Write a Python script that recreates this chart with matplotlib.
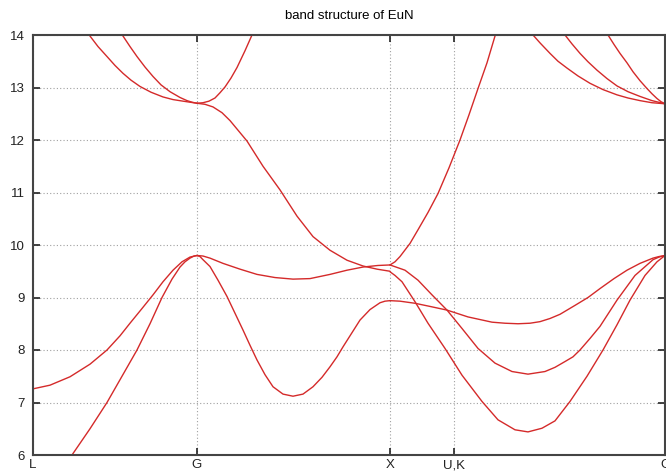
import matplotlib.pyplot as plt

# k-path positions of the symmetry points
kticks = [0, 0.82, 1.785, 2.105, 3.16]
klabels = ['L', 'G', 'X', 'U,K', 'G']

# L -> G valence
k_a = [0, 0.085, 0.195, 0.285, 0.37, 0.445, 0.52, 0.585, 0.645, 0.695, 0.735, 0.76, 0.785, 0.805, 0.82]
e_a = [5.4, 5.5, 6.0, 6.5, 7.0, 7.5, 8.0, 8.5, 9.0, 9.35, 9.58, 9.68, 9.75, 9.79, 9.8]

k_b = [0, 0.085, 0.185, 0.285, 0.37, 0.435, 0.485, 0.545, 0.6, 0.65, 0.7, 0.745, 0.785, 0.82]
e_b = [7.26, 7.33, 7.49, 7.73, 8.0, 8.27, 8.51, 8.79, 9.05, 9.3, 9.52, 9.68, 9.77, 9.8]

# G -> X valence
k_c = [0.82, 0.835, 0.85, 0.885, 0.925, 0.97, 1.01, 1.05, 1.085, 1.12, 1.16, 1.2, 1.25,
       1.3, 1.35, 1.4, 1.445, 1.485, 1.52, 1.55, 1.595, 1.635, 1.685, 1.735, 1.76, 1.785]
e_c = [9.8, 9.78, 9.72, 9.59, 9.33, 9.02, 8.70, 8.38, 8.09, 7.81, 7.53, 7.30, 7.16,
       7.12, 7.16, 7.30, 7.48, 7.68, 7.87, 8.06, 8.33, 8.57, 8.77, 8.90, 8.93, 8.94]

k_d = [0.82, 0.85, 0.885, 0.95, 1.035, 1.12, 1.21, 1.3, 1.385, 1.485, 1.57, 1.65, 1.725, 1.785]
e_d = [9.8, 9.79, 9.75, 9.65, 9.54, 9.44, 9.38, 9.35, 9.36, 9.44, 9.52, 9.58, 9.61, 9.62]

# G -> X conduction
k_e = [0.82, 0.86, 0.9, 0.945, 0.985, 1.07, 1.15, 1.235, 1.32, 1.4, 1.485, 1.57, 1.65, 1.72, 1.785]
e_e = [12.7, 12.68, 12.63, 12.52, 12.37, 11.98, 11.5, 11.05, 10.55, 10.16, 9.9, 9.71, 9.6, 9.54, 9.5]

k_h = [0.82, 0.85, 0.88, 0.91, 0.935, 0.96, 0.99, 1.02, 1.06, 1.095, 1.115]
e_h = [12.7, 12.71, 12.74, 12.8, 12.9, 13.01, 13.18, 13.38, 13.7, 14.0, 14.17]

# L -> G conduction
k_g1 = [0.245, 0.285, 0.325, 0.37, 0.41, 0.45, 0.49, 0.535, 0.59, 0.65, 0.7, 0.75, 0.785, 0.82]
e_g1 = [14.18, 13.98, 13.78, 13.59, 13.42, 13.27, 13.14, 13.02, 12.91, 12.82, 12.77, 12.74, 12.72, 12.7]

k_g2 = [0.415, 0.45, 0.485, 0.52, 0.56, 0.6, 0.64, 0.685, 0.735, 0.77, 0.795, 0.82]
e_g2 = [14.2, 13.98, 13.78, 13.59, 13.39, 13.21, 13.05, 12.92, 12.81, 12.75, 12.72, 12.7]

# X -> U,K -> G
k_f = [1.785, 1.81, 1.835, 1.885, 1.925, 1.975, 2.025, 2.08, 2.135, 2.18, 2.225, 2.27, 2.31, 2.335]
e_f = [9.62, 9.68, 9.78, 10.03, 10.29, 10.62, 10.98, 11.47, 12.0, 12.48, 12.98, 13.47, 13.98, 14.27]

k_p1 = [1.785, 1.835, 1.91, 1.985, 2.07, 2.175, 2.295, 2.36, 2.425, 2.485, 2.535,
        2.585, 2.635, 2.71, 2.775, 2.835, 2.905, 2.97, 3.035, 3.1, 3.13, 3.16]
e_p1 = [8.94, 8.93, 8.89, 8.83, 8.76, 8.63, 8.53, 8.51, 8.50, 8.51, 8.54,
        8.6, 8.68, 8.85, 9.0, 9.17, 9.36, 9.52, 9.65, 9.75, 9.78, 9.8]

k_p2 = [1.785, 1.86, 1.925, 1.995, 2.07, 2.145, 2.225, 2.31, 2.395, 2.475, 2.56,
        2.61, 2.66, 2.7, 2.735, 2.785, 2.835, 2.92, 3.01, 3.1, 3.13, 3.16]
e_p2 = [9.62, 9.52, 9.33, 9.05, 8.76, 8.41, 8.03, 7.75, 7.59, 7.54, 7.59,
        7.67, 7.78, 7.87, 8.0, 8.22, 8.45, 8.95, 9.42, 9.72, 9.77, 9.8]

k_p3 = [1.785, 1.81, 1.845, 1.91, 1.975, 2.06, 2.145, 2.245, 2.325, 2.41, 2.475,
        2.545, 2.61, 2.685, 2.77, 2.85, 2.92, 2.985, 3.06, 3.12, 3.16]
e_p3 = [9.49, 9.42, 9.30, 8.92, 8.51, 8.03, 7.52, 7.02, 6.67, 6.48, 6.44,
        6.51, 6.65, 7.02, 7.5, 8.0, 8.48, 8.95, 9.42, 9.68, 9.8]

k_r1 = [2.475, 2.5, 2.535, 2.585, 2.625, 2.67, 2.725, 2.785, 2.85, 2.92, 2.975, 3.035, 3.095, 3.16]
e_r1 = [14.1, 14.0, 13.85, 13.65, 13.5, 13.37, 13.22, 13.08, 12.96, 12.86, 12.8, 12.75, 12.71, 12.69]

k_r2 = [2.635, 2.66, 2.695, 2.735, 2.775, 2.82, 2.87, 2.92, 2.975, 3.035, 3.095, 3.16]
e_r2 = [14.12, 14.0, 13.83, 13.65, 13.49, 13.33, 13.17, 13.03, 12.92, 12.83, 12.75, 12.69]

k_r3 = [2.86, 2.875, 2.905, 2.935, 2.97, 3.0, 3.035, 3.07, 3.095, 3.12, 3.14, 3.16]
e_r3 = [14.12, 14.0, 13.82, 13.65, 13.47, 13.3, 13.13, 12.98, 12.88, 12.79, 12.73, 12.69]

bands = [(k_a, e_a), (k_b, e_b), (k_c, e_c), (k_d, e_d), (k_e, e_e), (k_h, e_h),
         (k_g1, e_g1), (k_g2, e_g2), (k_f, e_f), (k_p1, e_p1), (k_p2, e_p2),
         (k_p3, e_p3), (k_r1, e_r1), (k_r2, e_r2), (k_r3, e_r3)]

plt.rcParams['font.family'] = ['Liberation Sans', 'DejaVu Sans']
fig = plt.figure(figsize=(6.66, 4.74), dpi=100)
ax = fig.add_axes([33 / 666, 19 / 474, 632 / 666, 420 / 474])

for k, e in bands:
    ax.plot(k, e, color='#d42a2a', lw=1.0, solid_joinstyle='round', solid_capstyle='round')

ax.set_xlim(kticks[0], kticks[-1])
ax.set_ylim(6, 14)
ax.set_xticks(kticks)
ax.set_xticklabels(klabels)
ax.set_yticks(range(6, 15))
ax.grid(True, color='#a0a0a0', linestyle=(0, (1, 2)), lw=0.8)
ax.tick_params(direction='in', length=5, width=1.2, labelsize=9.5,
               top=True, right=True, colors='#222222')
ax.tick_params(axis='x', pad=3)
ax.tick_params(axis='y', pad=6)
for s in ax.spines.values():
    s.set_linewidth(1.5)
    s.set_color('#444444')
ax.set_title('band structure of EuN', fontsize=9.5, pad=11.5)

fig.savefig('out.png', dpi=100)
